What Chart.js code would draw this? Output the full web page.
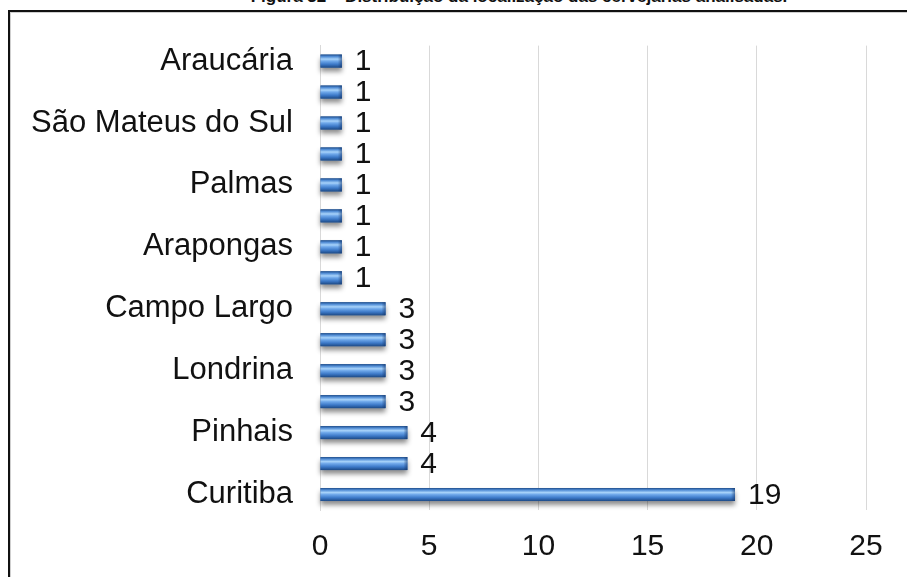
<!DOCTYPE html>
<html>
<head>
<meta charset="utf-8">
<script src="https://cdn.jsdelivr.net/npm/chart.js@4.4.0/dist/chart.umd.min.js"></script>
<style>
  html, body { margin: 0; padding: 0; background: #fff; overflow: hidden; }
  #wrap { position: relative; width: 907px; height: 577px; overflow: hidden; }
  #chart { position: absolute; left: 0; top: 0; }
  #frame {
    position: absolute; left: 8px; top: 10px; width: 1000px; height: 700px;
    border-left: 2px solid #111; border-top: 2px solid #111;
    box-shadow: inset 1px 1px 0 #cfcfcf;
    pointer-events: none;
  }
  #titulo {
    position: absolute; left: 0; top: -13px; width: 1038px; text-align: center;
    font: bold 17px "Liberation Sans Narrow", "Liberation Sans", sans-serif; color: #111;
    white-space: nowrap;
  }
</style>
</head>
<body>
<div id="wrap">
  <div id="titulo">Figura 32 – Distribuição da localização das cervejarias analisadas.</div>
  <div id="frame"></div>
  <canvas id="chart" width="907" height="577"></canvas>
</div>
<script>
// cidades (de cima para baixo); as vazias nao aparecem na figura
var cidades = ['Araucária', '', 'São Mateus do Sul', '', 'Palmas', '', 'Arapongas', '',
               'Campo Largo', '', 'Londrina', '', 'Pinhais', '', 'Curitiba'];
var quantidades = [1, 1, 1, 1, 1, 1, 1, 1, 3, 3, 3, 3, 4, 4, 19];
var ticksX = [0, 5, 10, 15, 20, 25];

var fonte = '"Liberation Sans", Arial, sans-serif';

// sombra, brilho das barras e os rotulos de valor
var barras3d = {
    id: 'barras3d',
    beforeDatasetsDraw: function (chart) {
        var ctx = chart.ctx;
        var meta = chart.getDatasetMeta(0);
        ctx.save();
        ctx.shadowColor = 'rgba(0,0,0,0.45)';
        ctx.shadowBlur = 5;
        ctx.shadowOffsetY = 4;
        ctx.fillStyle = '#3c6fb0';
        meta.data.forEach(function (bar) {
            ctx.fillRect(bar.base, bar.y - bar.height / 2, bar.x - bar.base, bar.height);
        });
        ctx.restore();
    },
    afterDatasetsDraw: function (chart) {
        var ctx = chart.ctx;
        var meta = chart.getDatasetMeta(0);
        ctx.save();
        meta.data.forEach(function (bar, i) {
            var topo = bar.y - bar.height / 2;
            var g = ctx.createLinearGradient(0, topo, 0, topo + bar.height);
            g.addColorStop(0, '#1f4d8a');
            g.addColorStop(0.15, '#4f8bd4');
            g.addColorStop(0.35, '#a8d3fa');
            g.addColorStop(0.5, '#6fa8ea');
            g.addColorStop(0.75, '#3c79c8');
            g.addColorStop(1, '#1d4a86');
            ctx.fillStyle = g;
            ctx.fillRect(bar.base, topo, bar.x - bar.base, bar.height);

            // ponta da barra
            var p = ctx.createLinearGradient(bar.x - 4, 0, bar.x, 0);
            p.addColorStop(0, 'rgba(20,50,100,0)');
            p.addColorStop(1, 'rgba(20,50,100,0.55)');
            ctx.fillStyle = p;
            ctx.fillRect(bar.x - 4, topo, 4, bar.height);

            ctx.fillStyle = '#111';
            ctx.font = '30px ' + fonte;
            ctx.textAlign = 'left';
            ctx.textBaseline = 'middle';
            ctx.fillText(quantidades[i], bar.x + 13, bar.y + 1);
        });
        ctx.restore();
    }
};

var ctx = document.getElementById('chart').getContext('2d');

var grafico = new Chart(ctx, {
    type: 'bar',
    data: {
        labels: cidades,
        datasets: [{
            label: 'Cervejarias',
            data: quantidades,
            backgroundColor: 'rgba(0,0,0,0)',
            borderWidth: 0,
            barThickness: 13
        }]
    },
    options: {
        indexAxis: 'y',
        responsive: false,
        animation: false,
        events: [],
        layout: { padding: { top: 43, right: 41, left: 0, bottom: 0 } },
        plugins: {
            legend: { display: false },
            tooltip: { enabled: false }
        },
        scales: {
            x: {
                min: 0,
                max: 25,
                afterFit: function (scale) { scale.height = 67; },
                afterBuildTicks: function (scale) {
                    scale.ticks = ticksX.map(function (v) { return { value: v }; });
                },
                grid: { color: '#d9d9d9', lineWidth: 1, drawTicks: false },
                border: { display: false },
                ticks: {
                    color: '#111',
                    padding: 19,
                    font: { family: fonte, size: 30 }
                }
            },
            y: {
                afterFit: function (scale) { scale.width = 320; },
                grid: { display: false, drawTicks: false },
                border: { display: true, color: '#d9d9d9', width: 1 },
                ticks: {
                    color: '#111',
                    padding: 27,
                    autoSkip: false,
                    font: { family: fonte, size: 31 }
                }
            }
        }
    },
    plugins: [barras3d]
});
</script>
</body>
</html>
